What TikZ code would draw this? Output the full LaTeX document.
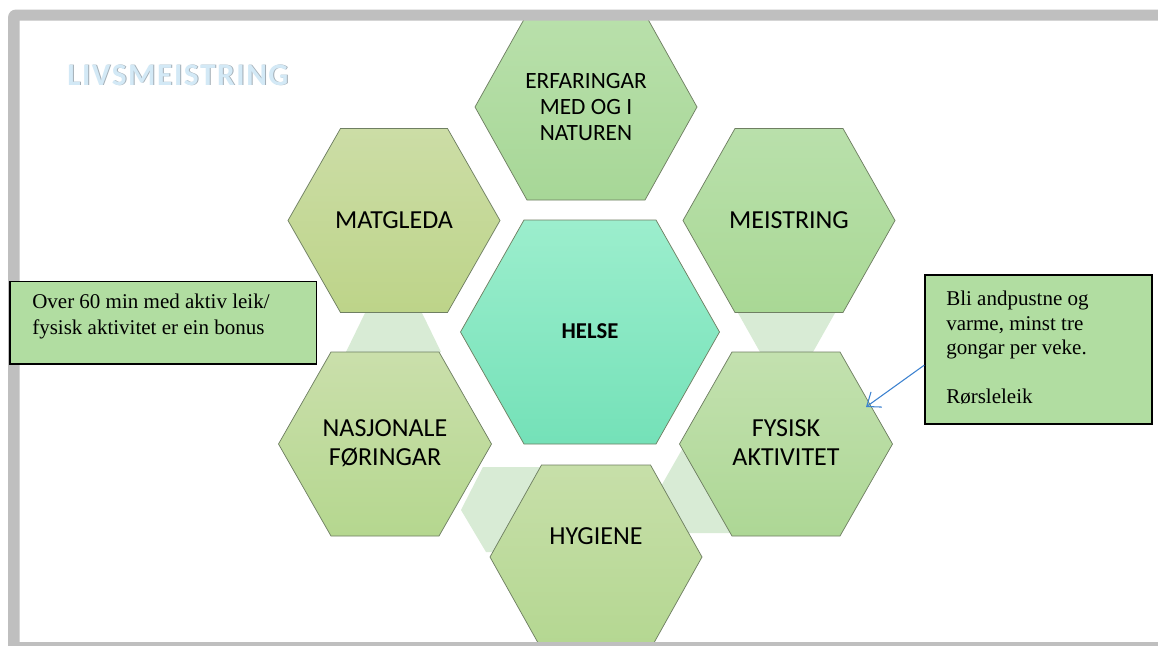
\documentclass[tikz,border=0pt]{standalone}
\usepackage{fontspec}
\setmainfont{Carlito}
\newfontfamily\boxfont{Liberation Serif}
\newfontfamily\titlefont[LetterSpace=5]{Carlito}
\usetikzlibrary{arrows.meta,fit,calc}
\definecolor{framegray}{HTML}{BFBFBF}
\definecolor{hexline}{HTML}{6F7F62}
\definecolor{linkfill}{HTML}{D8EBD5}
\definecolor{boxfill}{HTML}{B1DDA1}
\definecolor{arrowblue}{HTML}{3C82D0}
\definecolor{titleblue}{HTML}{D3E9F6}
\definecolor{titleshadow}{HTML}{A3AEB6}
\definecolor{matT}{HTML}{CCDDA6}\definecolor{matB}{HTML}{BDD489}
\definecolor{erfT}{HTML}{B9E0AB}\definecolor{erfB}{HTML}{A7D797}
\definecolor{meiT}{HTML}{B9E0AB}\definecolor{meiB}{HTML}{A9D895}
\definecolor{nasT}{HTML}{CADFAB}\definecolor{nasB}{HTML}{B5D78F}
\definecolor{fysT}{HTML}{C3E1AF}\definecolor{fysB}{HTML}{ADD795}
\definecolor{hygT}{HTML}{C7DFA9}\definecolor{hygB}{HTML}{B4D791}
\definecolor{helT}{HTML}{9CEECD}\definecolor{helB}{HTML}{74E1B8}
\newcommand\hexpath[5]{(#1-#3,#2) -- (#1-#5,#2-#4) -- (#1+#5,#2-#4) -- (#1+#3,#2) -- (#1+#5,#2+#4) -- (#1-#5,#2+#4) -- cycle}
\tikzset{
  hex/.style={draw=hexline, line width=0.55pt},
  hextext/.style={font=\fontsize{19.5}{21.75}\selectfont, align=center, inner sep=0pt, text=black},
  tbox/.style={draw=black, line width=1.1pt, fill=boxfill, inner sep=0pt},
  boxtext/.style={font=\boxfont\fontsize{15.75}{19.8}\selectfont, align=left, inner sep=0pt, anchor=base west},
  link/.style={fill=linkfill},
}
\begin{document}
\begin{tikzpicture}[x=0.75pt,y=-0.75pt]
\useasboundingbox (0,0) rectangle (1158,646);
\clip (0,0) rectangle (1158,646);
\fill[white] (0,0) rectangle (1158,646);
% light connectors behind
\path[link] (365,313) -- (422,313) -- (441,352) -- (346,352) -- cycle;
\path[link] (738,313) -- (835,313) -- (813,352) -- (760,352) -- cycle;
\path[link] (483,467) -- (575,467) -- (575,552) -- (486,552) -- (461,510) -- cycle;
\path[link] (684,446) -- (660,488) -- (672,525) -- (689,533) -- (745,533) -- (745,446) -- cycle;
% hexagons
\path[hex, top color=erfT, bottom color=erfB] \hexpath{586}{107}{111}{93}{59};
\path[hex, top color=matT, bottom color=matB] \hexpath{394}{220.5}{106}{92}{53.5};
\path[hex, top color=meiT, bottom color=meiB] \hexpath{789}{220.5}{106}{92}{54};
\path[hex, top color=helT, bottom color=helB] \hexpath{590}{332}{129.5}{112}{66};
\path[hex, top color=nasT, bottom color=nasB] \hexpath{385}{444}{106.5}{92}{54};
\path[hex, top color=fysT, bottom color=fysB] \hexpath{786}{444}{106.5}{92}{54};
\path[hex, top color=hygT, bottom color=hygB] \hexpath{596}{557}{106}{92}{54.5};
% hexagon texts
\node[hextext, font=\fontsize{17.5}{19.8}\selectfont] (erf) at (586,107) {ERFARINGAR\\MED OG I\\NATUREN};
\node[hextext] (mat) at (394,220) {MATGLEDA};
\node[hextext] (mei) at (789,220) {MEISTRING};
\node[hextext, font=\bfseries\fontsize{17}{20}\selectfont] (hel) at (590,331.5) {HELSE};
\node[hextext] (nas) at (385,443) {NASJONALE\\FØRINGAR};
\node[hextext] (fys) at (786,443) {FYSISK\\AKTIVITET};
\node[hextext] (hyg) at (596,536.5) {HYGIENE};
% frame
\fill[framegray, even odd rule] [rounded corners=6] (8,700) -- (8,9.5) -- (1200,9.5) -- (1200,700) -- cycle [sharp corners] (19.5,20.5) rectangle (1200,642);
% title
\node[anchor=base west, inner sep=0pt, text=titleshadow, font=\titlefont\bfseries\fontsize{23.5}{26}\selectfont] (titlesh) at (68,85.8) {LIVSMEISTRING};
\node[anchor=base west, inner sep=0pt, text=titleblue, font=\titlefont\bfseries\fontsize{23.5}{26}\selectfont] (title) at (67,85) {LIVSMEISTRING};
% text boxes
\node[tbox, fit={(10,281.5)(316.5,364)}] (b1) {};
\node[boxtext] (b1t) at (32,334.4) {Over 60 min med aktiv leik/\\fysisk aktivitet er ein bonus};
\node[tbox, fit={(925,275)(1152,424)}] (b2) {};
\node[boxtext, font=\boxfont\fontsize{15.75}{18.2}\selectfont] (b2t) at (946,403) {Bli andpustne og\\varme, minst tre\\gongar per veke.\\[18.2pt]Rørsleleik};
% arrow
\coordinate (atip) at (866,407);
\draw[arrowblue, line width=0.8pt, -{Straight Barb[length=9pt,width=14pt]}] ($(b2.south west)!0.396!(b2.north west)$) -- (atip);
\end{tikzpicture}
\end{document}
